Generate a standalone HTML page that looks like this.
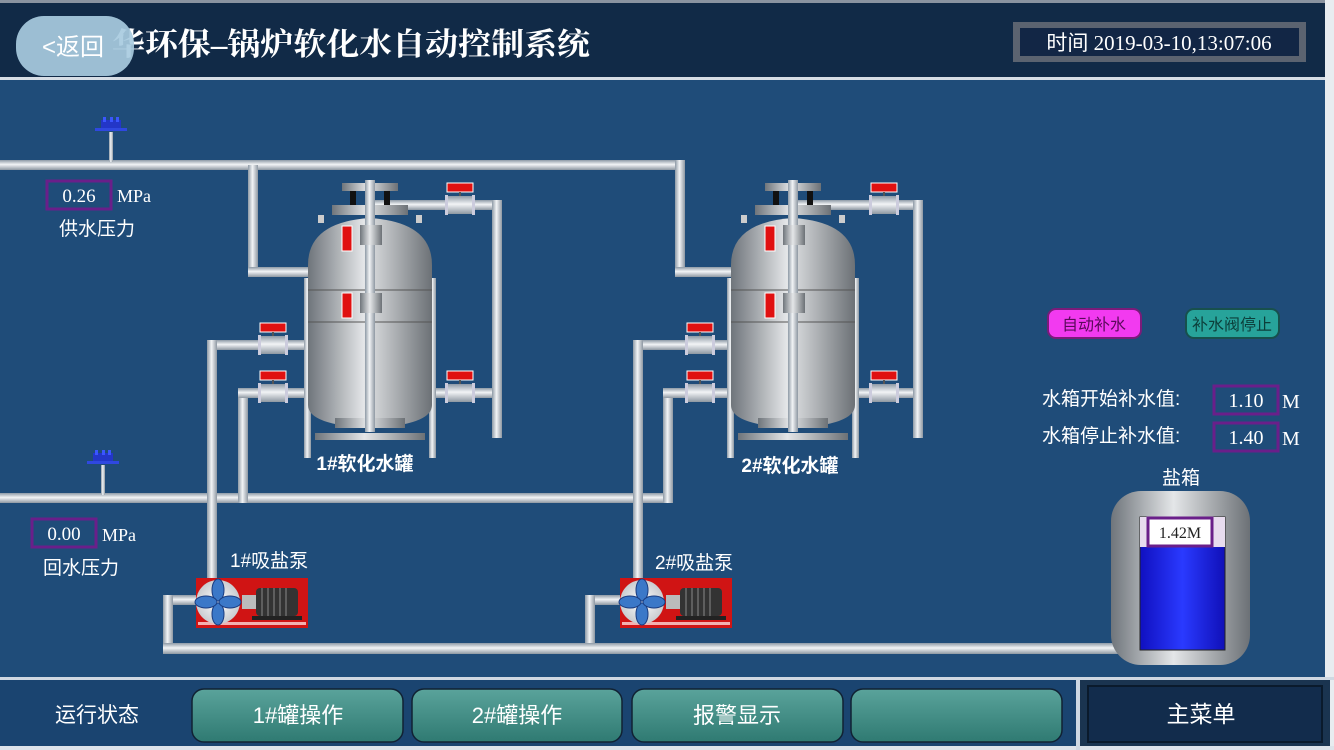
<!DOCTYPE html>
<html><head><meta charset="utf-8"><style>
html,body{margin:0;padding:0;width:1334px;height:750px;overflow:hidden;background:#1f4c79}
svg{display:block}
text{font-family:"Liberation Serif","Noto Sans CJK SC",serif}
.cj{font-family:"Liberation Sans","Noto Sans CJK SC",sans-serif}
.sf{font-family:"Liberation Serif","Noto Serif CJK SC",serif}
</style></head><body>
<svg width="1334" height="750" viewBox="0 0 1334 750" xmlns="http://www.w3.org/2000/svg">
<defs>
<linearGradient id="ph" x1="0" y1="0" x2="0" y2="1"><stop offset="0" stop-color="#8e9aa6"/><stop offset=".45" stop-color="#f2f4f6"/><stop offset="1" stop-color="#8e98a2"/></linearGradient>
<linearGradient id="pv" x1="0" y1="0" x2="1" y2="0"><stop offset="0" stop-color="#8e9aa6"/><stop offset=".45" stop-color="#f2f4f6"/><stop offset="1" stop-color="#8e98a2"/></linearGradient>
<linearGradient id="tk" x1="0" y1="0" x2="1" y2="0"><stop offset="0" stop-color="#6f757b"/><stop offset=".45" stop-color="#e4e6e8"/><stop offset="1" stop-color="#6c7176"/></linearGradient>
<linearGradient id="btn" x1="0" y1="0" x2="0" y2="1"><stop offset="0" stop-color="#5aa39b"/><stop offset="1" stop-color="#2f7a72"/></linearGradient>
<linearGradient id="blu" x1="0" y1="0" x2="1" y2="0"><stop offset="0" stop-color="#1010c0"/><stop offset=".5" stop-color="#2a3aff"/><stop offset="1" stop-color="#1010b8"/></linearGradient>
<radialGradient id="fan"><stop offset="0" stop-color="#fff"/><stop offset="1" stop-color="#c9ccd0"/></radialGradient>
<g id="tank">
  <rect x="-66" y="278" width="7" height="180" fill="url(#pv)"/>
  <rect x="59" y="278" width="7" height="180" fill="url(#pv)"/>
  <rect x="-28" y="183" width="56" height="8" fill="url(#tk)"/>
  <rect x="-20" y="191" width="6" height="14" fill="#111"/><rect x="14" y="191" width="6" height="14" fill="#111"/>
  <rect x="-38" y="205" width="76" height="10" fill="url(#tk)"/>
  <rect x="-52" y="215" width="6" height="8" fill="#ccc"/><rect x="46" y="215" width="6" height="8" fill="#ccc"/>
  <path d="M-62 265 Q-62 222 0 218 Q62 222 62 265 L62 405 Q62 425 0 428 Q-62 425 -62 405 Z" fill="url(#tk)"/>
  <line x1="-62" y1="290" x2="62" y2="290" stroke="#555" stroke-width="1"/>
  <line x1="-62" y1="322" x2="62" y2="322" stroke="#555" stroke-width="1"/>
  <rect x="-35" y="418" width="70" height="10" fill="url(#tk)"/>
  <rect x="-55" y="433" width="110" height="7" fill="url(#tk)"/>
  <rect x="-5" y="180" width="10" height="252" fill="url(#pv)"/>
  <rect x="-10" y="225" width="22" height="20" fill="url(#tk)"/>
  <rect x="-10" y="293" width="22" height="20" fill="url(#tk)"/>
  <rect x="-28" y="226" width="10" height="25" fill="#e01010" stroke="#fff" stroke-width="1"/>
  <rect x="-28" y="293" width="10" height="25" fill="#e01010" stroke="#fff" stroke-width="1"/>
</g>
<g id="valve">
  <rect x="-13" y="-22" width="26" height="9" fill="#e01010" stroke="#fff" stroke-width="1"/>
  <rect x="-1" y="-13" width="2" height="5" fill="#555"/>
  <rect x="-13" y="-9" width="26" height="18" fill="url(#ph)"/>
  <rect x="-15" y="-10" width="3" height="20" fill="#ccd"/><rect x="12" y="-10" width="3" height="20" fill="#ccd"/>
</g>
<g id="pump">
  <rect x="0" y="0" width="112" height="50" fill="#d01414"/>
  <rect x="2" y="44" width="108" height="3" fill="#f3b0b0"/>
  <circle cx="22" cy="24" r="22" fill="url(#fan)"/>
  <g fill="#3b78c8" stroke="#1a3c80" stroke-width="1">
    <ellipse cx="22" cy="12" rx="6" ry="11"/><ellipse cx="22" cy="36" rx="6" ry="11"/>
    <ellipse cx="10" cy="24" rx="11" ry="6"/><ellipse cx="34" cy="24" rx="11" ry="6"/>
  </g>
  <rect x="46" y="17" width="14" height="14" fill="#bbb"/>
  <rect x="60" y="10" width="42" height="28" rx="4" fill="#333"/>
  <g stroke="#888" stroke-width="1"><line x1="66" y1="10" x2="66" y2="38"/><line x1="72" y1="10" x2="72" y2="38"/><line x1="78" y1="10" x2="78" y2="38"/><line x1="84" y1="10" x2="84" y2="38"/><line x1="90" y1="10" x2="90" y2="38"/></g>
  <rect x="56" y="38" width="50" height="4" fill="#222"/>
</g>
<g id="gauge">
  <rect x="-2" y="0" width="4" height="30" fill="url(#pv)"/>
  <rect x="-10" y="-12" width="20" height="10" fill="#2336c8"/>
  <rect x="-16" y="-4" width="32" height="3" fill="#2f48e0"/>
  <rect x="-8" y="-15" width="3" height="5" fill="#3a56ff"/><rect x="-1" y="-15" width="3" height="5" fill="#3a56ff"/><rect x="5" y="-15" width="3" height="5" fill="#3a56ff"/>
</g>
</defs>

<!-- header -->
<rect x="0" y="0" width="1334" height="78" fill="#112a47"/>
<rect x="0" y="0" width="1334" height="3" fill="#8a93a0"/>
<rect x="0" y="77" width="1334" height="3" fill="#d6dde5"/>
<rect x="1325" y="0" width="9" height="750" fill="#e8ecf0"/>
<text x="112" y="55" font-size="31" fill="#fff" font-weight="bold" class="sf" textLength="478" lengthAdjust="spacingAndGlyphs">华环保–锅炉软化水自动控制系统</text>
<rect x="16" y="16" width="118" height="60" rx="28" fill="#a8cbe0" opacity="0.92"/>
<text x="42" y="55" font-size="24" fill="#fff" class="cj">&lt;返回</text>
<rect x="1013" y="22" width="293" height="40" fill="#5b6370"/>
<rect x="1020" y="28" width="279" height="28" fill="#122645"/>
<text x="1159" y="50" font-size="21" fill="#fff" text-anchor="middle">时间 2019-03-10,13:07:06</text>

<!-- pipes -->
<g>
<rect x="0" y="160" width="685" height="10" fill="url(#ph)"/>
<rect x="675" y="160" width="10" height="117" fill="url(#pv)"/>
<rect x="675" y="267" width="118" height="10" fill="url(#ph)"/>
<rect x="248" y="165" width="10" height="112" fill="url(#pv)"/>
<rect x="248" y="267" width="122" height="10" fill="url(#ph)"/>
<rect x="0" y="493" width="673" height="10" fill="url(#ph)"/>
<rect x="663" y="388" width="10" height="115" fill="url(#pv)"/>
<rect x="238" y="388" width="10" height="115" fill="url(#pv)"/>
<rect x="238" y="388" width="260" height="10" fill="url(#ph)"/>
<rect x="663" y="388" width="260" height="10" fill="url(#ph)"/>
<rect x="207" y="340" width="163" height="10" fill="url(#ph)"/>
<rect x="207" y="340" width="10" height="241" fill="url(#pv)"/>
<rect x="633" y="340" width="160" height="10" fill="url(#ph)"/>
<rect x="633" y="340" width="10" height="241" fill="url(#pv)"/>
<rect x="370" y="200" width="132" height="10" fill="url(#ph)"/>
<rect x="492" y="200" width="10" height="238" fill="url(#pv)"/>
<rect x="793" y="200" width="130" height="10" fill="url(#ph)"/>
<rect x="913" y="200" width="10" height="238" fill="url(#pv)"/>
<rect x="167" y="595" width="33" height="10" fill="url(#ph)"/>
<rect x="163" y="595" width="10" height="59" fill="url(#pv)"/>
<rect x="589" y="595" width="33" height="10" fill="url(#ph)"/>
<rect x="585" y="595" width="10" height="59" fill="url(#pv)"/>
<rect x="163" y="643" width="961" height="11" fill="url(#ph)"/>
</g>

<use href="#tank" x="370" y="0"/>
<use href="#tank" x="793" y="0"/>
<use href="#valve" x="460" y="205"/>
<use href="#valve" x="273" y="345"/>
<use href="#valve" x="273" y="393"/>
<use href="#valve" x="460" y="393"/>
<use href="#valve" x="884" y="205"/>
<use href="#valve" x="700" y="345"/>
<use href="#valve" x="700" y="393"/>
<use href="#valve" x="884" y="393"/>
<text x="365" y="470" font-size="19" fill="#fff" font-weight="bold" text-anchor="middle" class="cj">1#软化水罐</text>
<text x="790" y="472" font-size="19" fill="#fff" font-weight="bold" text-anchor="middle" class="cj">2#软化水罐</text>

<use href="#gauge" x="111" y="132"/>
<use href="#gauge" x="103" y="465"/>
<rect x="47" y="181" width="64" height="28" fill="none" stroke="#6a1f8a" stroke-width="3"/>
<text x="79" y="202" font-size="19" fill="#fff" text-anchor="middle">0.26</text>
<text x="117" y="202" font-size="18" fill="#fff">MPa</text>
<text x="59" y="235" font-size="19" fill="#fff" class="cj">供水压力</text>
<rect x="32" y="519" width="64" height="28" fill="none" stroke="#6a1f8a" stroke-width="3"/>
<text x="64" y="540" font-size="19" fill="#fff" text-anchor="middle">0.00</text>
<text x="102" y="541" font-size="18" fill="#fff">MPa</text>
<text x="43" y="574" font-size="19" fill="#fff" class="cj">回水压力</text>

<use href="#pump" x="196" y="578"/>
<use href="#pump" x="620" y="578"/>
<text x="230" y="567" font-size="19" fill="#fff" class="cj">1#吸盐泵</text>
<text x="655" y="569" font-size="19" fill="#fff" class="cj">2#吸盐泵</text>

<!-- right panel -->
<rect x="1048" y="309" width="93" height="29" rx="8" fill="#f23af0" stroke="#7a1b7a" stroke-width="2"/>
<text x="1094" y="330" font-size="16" fill="#5a0a5a" text-anchor="middle" class="cj">自动补水</text>
<rect x="1186" y="309" width="93" height="29" rx="8" fill="#27a39a" stroke="#17504d" stroke-width="2"/>
<text x="1232" y="330" font-size="16" fill="#0c3e3a" text-anchor="middle" class="cj">补水阀停止</text>
<text x="1042" y="405" font-size="19" fill="#fff" class="cj">水箱开始补水值:</text>
<text x="1042" y="442" font-size="19" fill="#fff" class="cj">水箱停止补水值:</text>
<rect x="1214" y="386" width="64" height="28" fill="none" stroke="#6a1f8a" stroke-width="3"/>
<text x="1246" y="407" font-size="20" fill="#fff" text-anchor="middle">1.10</text>
<text x="1282" y="408" font-size="20" fill="#fff">M</text>
<rect x="1214" y="423" width="64" height="28" fill="none" stroke="#6a1f8a" stroke-width="3"/>
<text x="1246" y="444" font-size="20" fill="#fff" text-anchor="middle">1.40</text>
<text x="1282" y="445" font-size="20" fill="#fff">M</text>
<text x="1181" y="484" font-size="19" fill="#fff" text-anchor="middle" class="cj">盐箱</text>
<rect x="1111" y="491" width="139" height="174" rx="30" fill="url(#tk)"/>
<rect x="1140" y="517" width="85" height="133" fill="url(#blu)" stroke="#222" stroke-width="1"/>
<rect x="1140" y="517" width="85" height="30" fill="#e8dcef"/>
<rect x="1148" y="518" width="64" height="28" fill="#fff" stroke="#6a1f8a" stroke-width="3"/>
<text x="1180" y="538" font-size="16" fill="#222" text-anchor="middle">1.42M</text>

<!-- bottom -->
<rect x="0" y="677" width="1334" height="3" fill="#cfd8e2"/>
<rect x="0" y="680" width="1076" height="66" fill="#1a4470"/>
<rect x="0" y="746" width="1334" height="4" fill="#dde3ea"/>
<rect x="1076" y="680" width="4" height="70" fill="#cfd8e2"/>
<rect x="1080" y="680" width="250" height="66" fill="#1a3450"/>
<rect x="1088" y="686" width="234" height="56" fill="#122c4c" stroke="#0a1a2c" stroke-width="2"/>
<text x="1201" y="722" font-size="23" fill="#fff" text-anchor="middle" class="cj">主菜单</text>
<text x="97" y="722" font-size="21" fill="#fff" text-anchor="middle" class="cj">运行状态</text>
<rect x="192" y="689" width="211" height="53" rx="12" fill="url(#btn)" stroke="#123" stroke-width="1.5"/>
<rect x="412" y="689" width="210" height="53" rx="12" fill="url(#btn)" stroke="#123" stroke-width="1.5"/>
<rect x="632" y="689" width="211" height="53" rx="12" fill="url(#btn)" stroke="#123" stroke-width="1.5"/>
<rect x="851" y="689" width="211" height="53" rx="12" fill="url(#btn)" stroke="#123" stroke-width="1.5"/>
<text x="298" y="723" font-size="22" fill="#fff" text-anchor="middle" class="cj">1#罐操作</text>
<text x="517" y="723" font-size="22" fill="#fff" text-anchor="middle" class="cj">2#罐操作</text>
<text x="737" y="723" font-size="22" fill="#fff" text-anchor="middle" class="cj">报警显示</text>
</svg>
</body></html>
